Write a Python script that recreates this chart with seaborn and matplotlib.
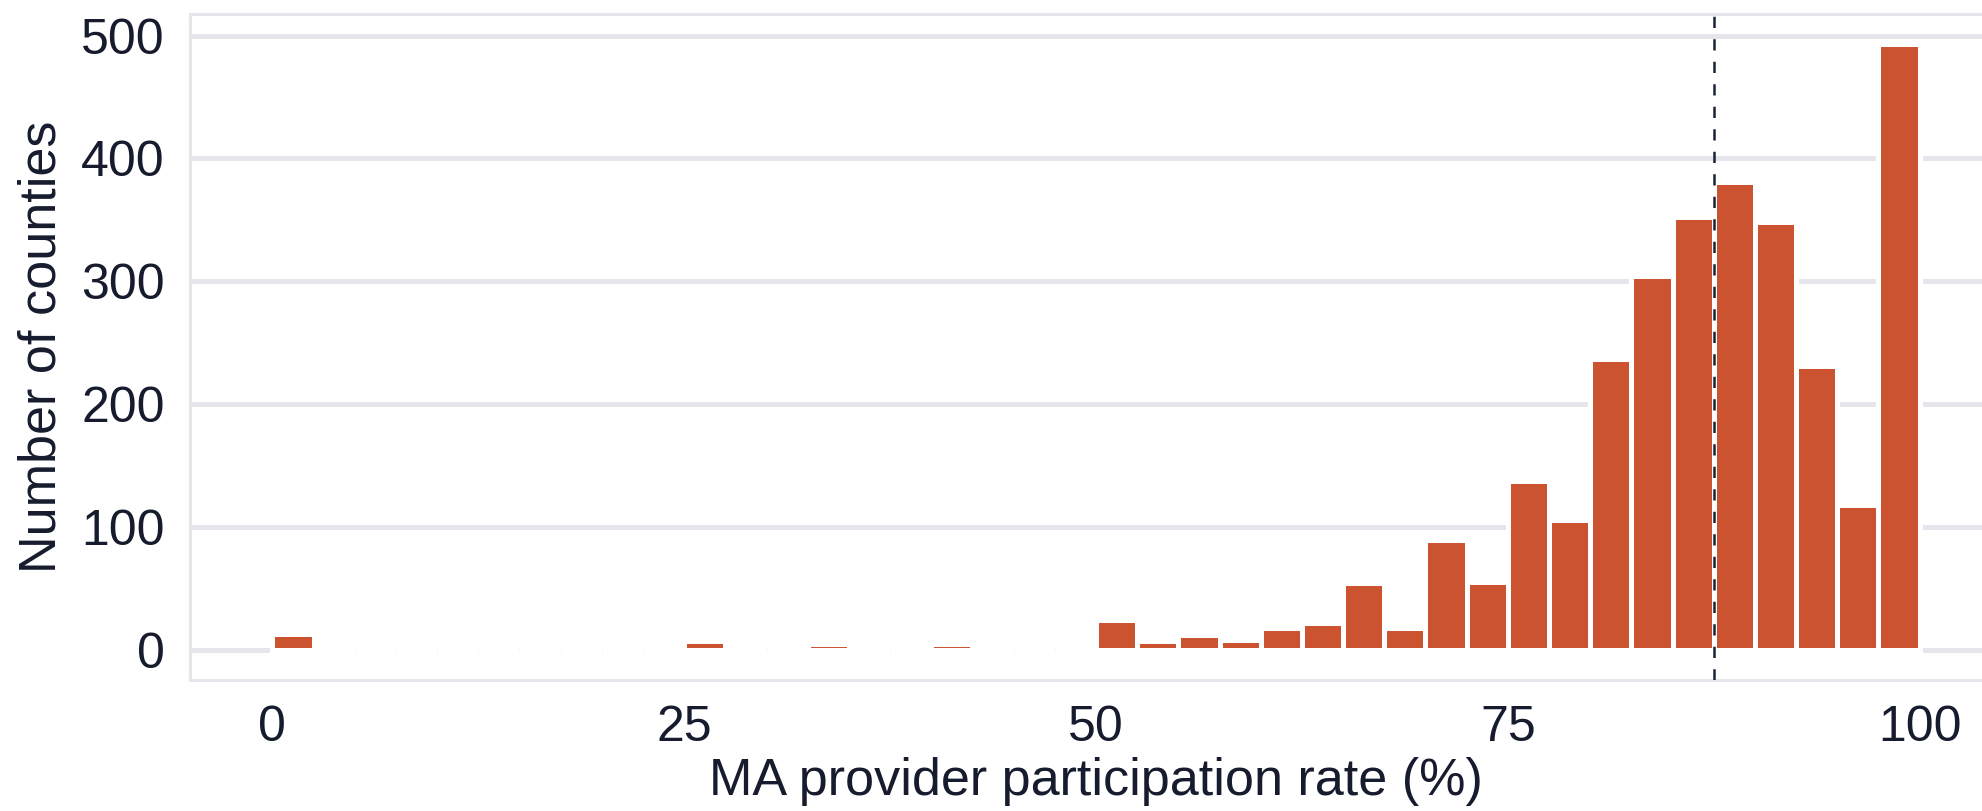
"""
Histogram of MA provider participation rate across counties.
"""
import numpy as np
import pandas as pd
import matplotlib
matplotlib.use('Agg')
import matplotlib.pyplot as plt
import seaborn as sns

# bin left edges (2.5 point bins, 0 - 100)
bin_width = 2.5
bin_left = [i * bin_width for i in range(40)]

# number of counties in each bin
county_counts = [
    13, 0, 0, 0, 0, 0, 0, 0, 0, 0,
    7, 0, 0, 5, 0, 0, 5, 0, 0, 0,
    24, 7, 12, 8, 18, 22, 54, 18, 89, 55,
    137, 106, 237, 304, 352, 381, 348, 231, 118, 493,
]

median_rate = 87.5

x_ticks = [0, 25, 50, 75, 100]
y_ticks = [0, 100, 200, 300, 400, 500]

bar_color = '#cc5330'
text_color = '#161c2d'
grid_color = '#e5e6eb'
line_color = '#1b2336'


if __name__ == '__main__':

    data = pd.DataFrame({
        'rate': [b + bin_width / 2 for b in bin_left],
        'counties': county_counts,
    })

    sns.set_theme(style='whitegrid', rc={
        'axes.edgecolor': grid_color,
        'axes.linewidth': 2.2,
        'grid.color': grid_color,
        'grid.linewidth': 3.6,
        'text.color': text_color,
        'axes.labelcolor': text_color,
        'xtick.color': text_color,
        'ytick.color': text_color,
        'xtick.major.size': 0,
        'ytick.major.size': 0,
        'xtick.major.pad': 18,
        'ytick.major.pad': 18,
        'font.size': 36,
        'axes.labelsize': 37.5,
        'xtick.labelsize': 36,
        'ytick.labelsize': 36,
    })
    plt.rcParams['font.family'] = ['Liberation Sans', 'DejaVu Sans']

    fig = plt.figure(figsize=(19.82, 8.11), dpi=100)
    ax = fig.add_axes([190 / 1982, 1 - 680 / 811, 1812 / 1982, 666 / 811])

    sns.histplot(data=data, x='rate', weights='counties',
        binwidth=bin_width, binrange=(0, 100),
        color=bar_color, edgecolor='white', linewidth=3.6, alpha=1, ax=ax)

    # plain 5% margins on both ends, like the original
    ax.use_sticky_edges = False
    ax.autoscale_view()

    ax.axvline(median_rate, color=line_color, linewidth=1.8,
        linestyle=(0, (4.5, 4.5)), zorder=5)

    ax.set_xlim(-5, 105)
    ax.set_xticks(x_ticks)
    ax.set_yticks(y_ticks)
    ax.grid(False, axis='x')
    ax.set_axisbelow(True)

    ax.set_xlabel('MA provider participation rate (%)', labelpad=4)
    ax.set_ylabel('Number of counties', labelpad=11)

    fig.savefig('out.png', dpi=100)
